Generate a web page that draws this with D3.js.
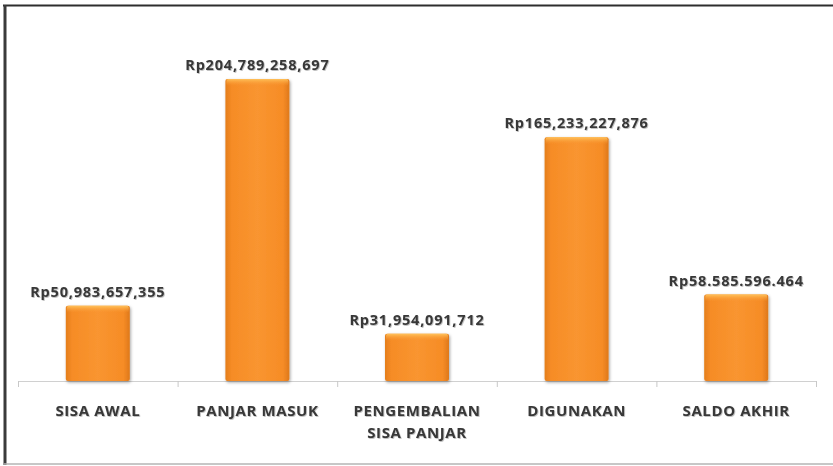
<!DOCTYPE html>
<meta charset="utf-8">
<script src="https://d3js.org/d3.v7.min.js"></script>
<style>
  body { margin: 0; background: #fff; }
</style>
<div id="chart_area"></div>
<script>

    // categories, values and the labels printed above the bars
    let categories = ["SISA AWAL", "PANJAR MASUK", "PENGEMBALIAN\nSISA PANJAR", "DIGUNAKAN", "SALDO AKHIR"];
    let values = [50983657355, 204789258697, 31954091712, 165233227876, 58585596464];
    let valueLabels = ["Rp50,983,657,355", "Rp204,789,258,697", "Rp31,954,091,712", "Rp165,233,227,876", "Rp58.585.596.464"];

    let width = 833;
    let height = 466;

    let svg = d3.select("#chart_area")
                .append("svg")
                    .attr("width", width)
                    .attr("height", height);

    let defs = svg.append("defs");

    // side-to-side shading of the bars
    let grad = defs.append("linearGradient")
        .attr("id", "barGrad")
        .attr("x1", "0%").attr("x2", "100%").attr("y1", "0%").attr("y2", "0%");
    grad.append("stop").attr("offset", "0%").attr("stop-color", "#e47e1c");
    grad.append("stop").attr("offset", "10%").attr("stop-color", "#f68c26");
    grad.append("stop").attr("offset", "50%").attr("stop-color", "#f99530");
    grad.append("stop").attr("offset", "90%").attr("stop-color", "#f68c26");
    grad.append("stop").attr("offset", "100%").attr("stop-color", "#de781b");

    // bevel at the top
    let topGrad = defs.append("linearGradient")
        .attr("id", "topGrad")
        .attr("x1", "0%").attr("x2", "0%").attr("y1", "0%").attr("y2", "100%");
    topGrad.append("stop").attr("offset", "0%").attr("stop-color", "#ffc25a");
    topGrad.append("stop").attr("offset", "100%").attr("stop-color", "#f99530").attr("stop-opacity", 0);

    let shadow = defs.append("filter").attr("id", "shadow")
        .attr("x", "-20%").attr("y", "-20%").attr("width", "140%").attr("height", "140%");
    shadow.append("feDropShadow")
        .attr("dx", 1).attr("dy", 1.5).attr("stdDeviation", 1.5)
        .attr("flood-color", "#000").attr("flood-opacity", 0.35);

    let textShadow = defs.append("filter").attr("id", "textShadow");
    textShadow.append("feDropShadow")
        .attr("dx", 0.8).attr("dy", 0.8).attr("stdDeviation", 0.6)
        .attr("flood-color", "#000").attr("flood-opacity", 0.3);

    // frame round the chart: dark top and left, light bottom
    svg.append("line")
        .attr("x1", 3).attr("x2", width).attr("y1", 5.5).attr("y2", 5.5)
        .attr("stroke", "#2e2e2e").attr("stroke-width", 2);
    svg.append("line")
        .attr("x1", 5).attr("x2", 5).attr("y1", 5).attr("y2", 465)
        .attr("stroke", "#3a3a3a").attr("stroke-width", 3);
    svg.append("line")
        .attr("x1", 4).attr("x2", width).attr("y1", 464).attr("y2", 464)
        .attr("stroke", "#b5b5b5").attr("stroke-width", 1.5);

    let x = d3.scaleBand()
        .domain(categories)
        .range([18, 816])
        .paddingInner(0)
        .paddingOuter(0);

    let y = d3.scaleLinear()
        .domain([0, 250e9])
        .range([381, 12.3]);

    let barWidth = 64;

    // axis: light line with ticks between categories
    let g = svg.append("g");
    g.append("line")
        .attr("x1", x.range()[0]).attr("x2", x.range()[1])
        .attr("y1", y(0) + 0.5).attr("y2", y(0) + 0.5)
        .attr("stroke", "#d0d0d0").attr("stroke-width", 1);

    let tickPos = categories.map(c => x(c)).concat([x.range()[1]]);
    g.selectAll(".tick")
        .data(tickPos)
        .enter()
        .append("line")
            .attr("x1", d => d + 0.5).attr("x2", d => d + 0.5)
            .attr("y1", y(0)).attr("y2", y(0) + 6)
            .attr("stroke", "#c8c8c8");

    let bars = svg.selectAll(".bar")
        .data(values)
        .enter()
        .append("g")
            .attr("filter", "url(#shadow)");

    bars.append("rect")
        .attr("x", (d, i) => x(categories[i]) + x.bandwidth() / 2 - barWidth / 2)
        .attr("y", d => y(d))
        .attr("width", barWidth)
        .attr("height", d => y(0) - y(d))
        .attr("rx", 2)
        .attr("fill", "url(#barGrad)");

    bars.append("rect")
        .attr("x", (d, i) => x(categories[i]) + x.bandwidth() / 2 - barWidth / 2 + 1)
        .attr("y", d => y(d))
        .attr("width", barWidth - 2)
        .attr("height", 7)
        .attr("rx", 2)
        .attr("fill", "url(#topGrad)");

    // value labels above bars
    svg.selectAll(".valueLabel")
        .data(values)
        .enter()
        .append("text")
            .attr("x", (d, i) => x(categories[i]) + x.bandwidth() / 2)
            .attr("y", d => y(d) - 9)
            .attr("text-anchor", "middle")
            .attr("filter", "url(#textShadow)")
            .style("font-family", "'Open Sans', sans-serif")
            .style("font-weight", "bold")
            .style("font-size", "14.5px")
            .style("letter-spacing", "0.8px")
            .style("fill", "#383838")
            .text((d, i) => valueLabels[i]);

    // category labels, split on newline
    let catLabels = svg.selectAll(".catLabel")
        .data(categories)
        .enter()
        .append("text")
            .attr("x", d => x(d) + x.bandwidth() / 2)
            .attr("y", 416)
            .attr("text-anchor", "middle")
            .attr("filter", "url(#textShadow)")
            .style("font-family", "'Open Sans', sans-serif")
            .style("font-weight", "bold")
            .style("font-size", "15px")
            .style("letter-spacing", "0.6px")
            .style("fill", "#383838");

    catLabels.selectAll("tspan")
        .data(d => d.split("\n"))
        .enter()
        .append("tspan")
            .attr("x", function() { return d3.select(this.parentNode).attr("x"); })
            .attr("dy", (d, i) => i === 0 ? 0 : 22)
            .text(d => d);

</script>
</html>
